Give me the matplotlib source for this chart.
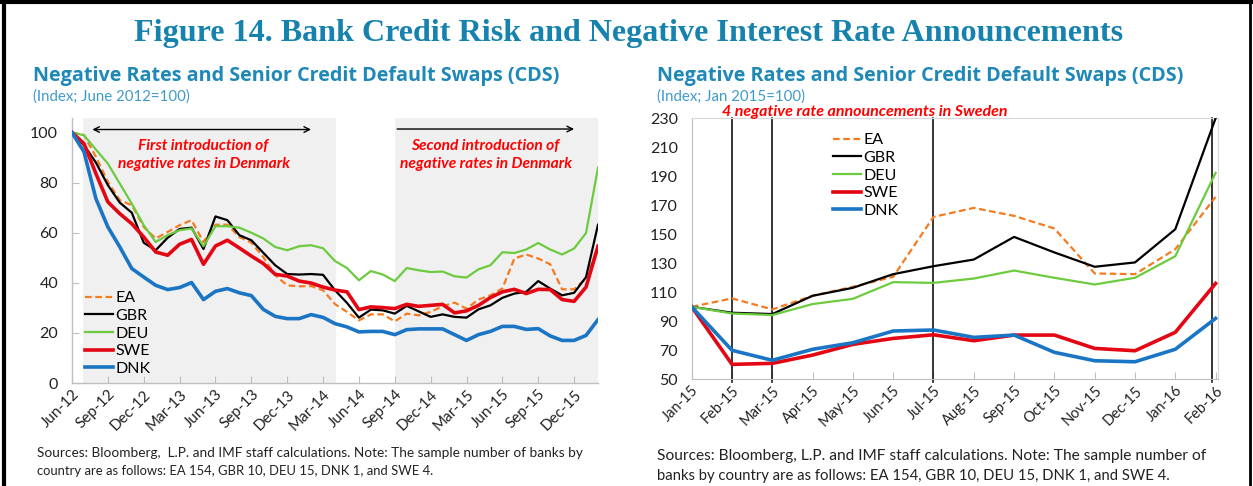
import matplotlib
matplotlib.use("Agg")
import matplotlib.pyplot as plt
from matplotlib.lines import Line2D

W, H = 1253, 486

# ---------------- data ----------------
left_ticklabels = ["Jun-12", "Sep-12", "Dec-12", "Mar-13", "Jun-13", "Sep-13", "Dec-13",
                   "Mar-14", "Jun-14", "Sep-14", "Dec-14", "Mar-15", "Jun-15", "Sep-15", "Dec-15"]

ea_left = [100, 99, 90.3, 80.3, 73, 71, 62.3, 57.7, 60.3, 63, 65, 56.3, 63.2, 63.2, 58.3, 56,
           50.3, 43, 39, 38.6, 38.7, 37, 31.5, 28.4, 25, 27.4, 27.4, 24.6, 27.7, 27, 28.4,
           30.6, 32.1, 29.7, 33.3, 35, 37.7, 49.7, 51.3, 49.7, 47.4, 37.4, 37.4, 41.7, 54.3]
gbr_left = [100, 95, 88, 79, 72, 68, 56, 53, 58, 61.5, 62, 53.5, 66.5, 65, 59, 57,
            52, 47, 43.5, 43.3, 43.5, 43.2, 37, 32, 26.1, 29.3, 29, 27.7, 30.8, 28.6, 26.4,
            27.4, 26.4, 26.1, 29.4, 31, 34, 35.7, 36.4, 40.7, 37.7, 35, 36, 42.3, 63.2]
deu_left = [100, 98.9, 93.2, 87.6, 79.6, 71.6, 63, 56.3, 59, 61, 61.7, 54.6, 62.6, 62.6, 62, 60,
            57.7, 54.3, 53, 54.6, 55, 53.8, 48.7, 45.9, 41, 44.7, 43.3, 40.7, 45.9, 45, 44.3,
            44.5, 42.6, 42.1, 45.4, 47, 52.2, 51.9, 53.3, 55.9, 53.3, 51.3, 53.7, 59.9, 86]
swe_left = [100, 95.6, 83.6, 72.3, 67.6, 63.6, 58.3, 52.3, 51, 55.4, 57.3, 47.4, 54.7, 57, 53.9,
            50.7, 47.7, 43.4, 42.7, 40.7, 39.9, 38.3, 37.1, 36.4, 29.3, 30.4, 30.1, 29.7, 31.4,
            30.6, 31, 31.4, 28, 28.8, 31, 34.1, 36.4, 37.4, 35.7, 37.4, 37.3, 33.3, 32.6, 38.3, 54.6]
dnk_left = [100, 92.3, 73.6, 62.3, 54.3, 45.7, 42.3, 39, 37.3, 38.1, 40.1, 33.3, 36.6, 37.7, 36,
            34.9, 29.4, 26.6, 25.7, 25.7, 27.3, 26.2, 23.7, 22.4, 20.4, 20.6, 20.6, 19.3, 21.3,
            21.6, 21.6, 21.6, 19.3, 17, 19.3, 20.6, 22.6, 22.6, 21.4, 21.7, 18.8, 17, 17, 19, 25.3]

right_ticklabels = ["Jan-15", "Feb-15", "Mar-15", "Apr-15", "May-15", "Jun-15", "Jul-15",
                    "Aug-15", "Sep-15", "Oct-15", "Nov-15", "Dec-15", "Jan-16", "Feb-16"]
ea_right = [100, 105.8, 98.2, 107.6, 113.8, 120.7, 162, 168.2, 162.7, 154, 123, 122.5, 139.7, 175.8]
gbr_right = [100, 95.9, 95, 107.6, 113.1, 122.5, 128, 132.6, 148.2, 137.5, 127.6, 130.6, 153.5, 230]
deu_right = [100, 95.4, 94.3, 101.9, 105.5, 117, 116.5, 119.5, 125, 120, 115.4, 120, 134.9, 192.3]
swe_right = [100, 60.3, 61, 66.7, 74.1, 78.2, 80.7, 76.6, 80.5, 80.5, 71.3, 69.7, 82.4, 116.1]
dnk_right = [100, 70, 63.1, 70.7, 75.2, 83.3, 84, 78.9, 80.5, 68.6, 62.8, 62.1, 70.7, 92]

series_names = ["EA", "GBR", "DEU", "SWE", "DNK"]
# Denmark negative-rate periods (month index from Jun-12) and Sweden announcement months (from Jan-15)
dk_periods = [(0.9, 22.1), (27.0, 44.0)]
se_announcements = [1, 2, 6, 13]

# ---------------- style ----------------
colors = {"EA": "#F47B20", "GBR": "#000000", "DEU": "#6CCB3F", "SWE": "#E30613", "DNK": "#1A75C4"}
lws = {"EA": 1.6, "GBR": 1.6, "DEU": 1.6, "SWE": 2.6, "DNK": 2.6}
styles = {"EA": (0, (3, 1.6)), "GBR": "-", "DEU": "-", "SWE": "-", "DNK": "-"}

TITLE_C = "#1682AE"
SUB_C = "#1E88B8"
SUB2_C = "#3F9ACB"
AXIS_C = "#BFBFBF"
TEXT_F = "Lato"

fig = plt.figure(figsize=(W / 100, H / 100), dpi=100)
fig.patch.set_facecolor("white")


def rect(x0, y0, x1, y1):
    return [x0 / W, 1 - y1 / H, (x1 - x0) / W, (y1 - y0) / H]


def fx(x):
    return x / W


def fy(y):
    return 1 - y / H


renderer = fig.canvas.get_renderer()


def fit_text(s, x0, x1, y, size0=10, **kw):
    t = fig.text(fx(x0), fy(y), s, fontsize=size0, ha="left", va="baseline", **kw)
    bb = t.get_window_extent(renderer=renderer)
    target = x1 - x0
    t.set_fontsize(size0 * target / bb.width)
    return t


# outer frame
fig.add_artist(Line2D([fx(4), fx(4)], [fy(0), fy(486)], color="black", lw=3))
fig.add_artist(Line2D([fx(0), fx(1253)], [fy(2), fy(2)], color="black", lw=3))
fig.add_artist(Line2D([fx(1250), fx(1250)], [fy(0), fy(486)], color="black", lw=2))

# titles
fit_text("Figure 14. Bank Credit Risk and Negative Interest Rate Announcements", 134, 1122, 41,
         size0=20, family="Liberation Serif", weight="bold", color=TITLE_C)
fit_text("Negative Rates and Senior Credit Default Swaps (CDS)", 33, 557, 81, size0=13,
         family="Open Sans", weight="bold", color=SUB_C)
fit_text("Negative Rates and Senior Credit Default Swaps (CDS)", 657, 1180, 81, size0=13,
         family="Open Sans", weight="bold", color=SUB_C)
fit_text("(Index; June 2012=100)", 33, 190, 101, size0=10, family=TEXT_F, color=SUB2_C)
fit_text("(Index; Jan 2015=100)", 657, 805, 101, size0=10, family=TEXT_F, color=SUB2_C)

fit_text("Sources: Bloomberg,  L.P. and IMF staff calculations. Note: The sample number of banks by",
         37, 580, 457, size0=10, family=TEXT_F, color="#222222")
fit_text("country are as follows: EA 154, GBR 10, DEU 15, DNK 1, and SWE 4.",
         37, 432, 475, size0=10, family=TEXT_F, color="#222222")
fit_text("Sources: Bloomberg, L.P. and IMF staff calculations. Note: The sample number of",
         657, 1207, 460, size0=10, family=TEXT_F, color="#222222")
fit_text("banks by country are as follows: EA 154, GBR 10, DEU 15, DNK 1, and SWE 4.",
         657, 1170, 480, size0=10, family=TEXT_F, color="#222222")

# ---------------- left chart ----------------
axL = fig.add_axes(rect(72, 118, 598, 383))
n_left = len(ea_left)
xs_left = list(range(n_left))
for a, b in dk_periods:
    axL.axvspan(a, b, color="#F0F0F0", lw=0, zorder=0)
left_data = {"EA": ea_left, "GBR": gbr_left, "DEU": deu_left, "SWE": swe_left, "DNK": dnk_left}
for name in series_names:
    axL.plot(xs_left, left_data[name], color=colors[name], lw=lws[name], ls=styles[name],
             label=name, solid_joinstyle="round", zorder=3)
axL.set_xlim(0, n_left - 1)
axL.set_ylim(0, 105.8)
axL.set_yticks([0, 20, 40, 60, 80, 100])
axL.set_xticks(range(0, n_left - 1, 3))
axL.set_xticklabels(left_ticklabels)
for s in ["top", "right"]:
    axL.spines[s].set_visible(False)
for s in ["left", "bottom"]:
    axL.spines[s].set_color(AXIS_C)
    axL.spines[s].set_linewidth(1.0)
axL.tick_params(axis="both", direction="in", length=5, color=AXIS_C, labelsize=11,
                labelcolor="#222222")
axL.tick_params(axis="y", pad=10)
axL.tick_params(axis="x", pad=3)
for lab in axL.get_xticklabels():
    lab.set_rotation(45)
    lab.set_ha("right")
    lab.set_rotation_mode("anchor")
    lab.set_family(TEXT_F)
for lab in axL.get_yticklabels():
    lab.set_family(TEXT_F)
    lab.set_fontsize(11.5)

axL.annotate("", xy=(1.7, 101.2), xytext=(20.0, 101.2),
             arrowprops=dict(arrowstyle="<->", color="black", lw=1.0, shrinkA=0, shrinkB=0))
axL.annotate("", xy=(42.0, 101.4), xytext=(27.2, 101.4),
             arrowprops=dict(arrowstyle="->", color="black", lw=1.0, shrinkA=0, shrinkB=0))
for xc, line1 in [(11.0, "First introduction of"), (34.6, "Second introduction of")]:
    axL.text(xc, 94.6, line1, color="#FF0000", fontsize=11.2, family=TEXT_F,
             weight="bold", style="italic", ha="center", va="center")
    axL.text(xc, 87.4, "negative rates in Denmark", color="#FF0000", fontsize=11.2,
             family=TEXT_F, weight="bold", style="italic", ha="center", va="center")

legL = axL.legend(loc="upper left", bbox_to_anchor=(fx(85), fy(291)),
                  bbox_transform=fig.transFigure, frameon=False,
                  handlelength=1.75, handletextpad=0.15, labelspacing=0.22,
                  borderpad=0, borderaxespad=0, prop={"family": TEXT_F, "size": 11.5})

# ---------------- right chart ----------------
axR = fig.add_axes(rect(691.7, 118.3, 1218, 379.3))
n_right = len(ea_right)
xs_right = list(range(n_right))
right_data = {"EA": ea_right, "GBR": gbr_right, "DEU": deu_right, "SWE": swe_right, "DNK": dnk_right}
for xv in se_announcements:
    axR.axvline(xv - (0.08 if xv == n_right - 1 else 0), ymin=-0.012, ymax=1.0, color="black",
                lw=1.1, clip_on=False, zorder=2)
for name in series_names:
    axR.plot(xs_right, right_data[name], color=colors[name], lw=lws[name], ls=styles[name],
             label=name, solid_joinstyle="round", zorder=3)
axR.set_xlim(0, n_right - 1 + 0.06)
axR.set_ylim(50, 230)
axR.set_yticks(range(50, 231, 20))
axR.set_xticks(xs_right)
axR.set_xticklabels(right_ticklabels)
for s in ["left", "bottom"]:
    axR.spines[s].set_color(AXIS_C)
for s in ["top", "right"]:
    axR.spines[s].set_color("#D9D9D9")
axR.tick_params(axis="x", direction="in", length=5, color=AXIS_C, labelsize=10.5,
                labelcolor="#222222", pad=3)
axR.tick_params(axis="y", length=0, labelsize=11.5, labelcolor="#222222", pad=10)
for lab in axR.get_xticklabels():
    lab.set_rotation(45)
    lab.set_ha("right")
    lab.set_rotation_mode("anchor")
    lab.set_family(TEXT_F)
for lab in axR.get_yticklabels():
    lab.set_family(TEXT_F)

fig.text(fx(722), fy(116), "4 negative rate announcements in Sweden", color="#FF0000",
         fontsize=11.5, family=TEXT_F, weight="bold", style="italic", ha="left", va="baseline")

legR = axR.legend(loc="upper left", bbox_to_anchor=(fx(833), fy(133)),
                  bbox_transform=fig.transFigure, frameon=False,
                  handlelength=1.75, handletextpad=0.15, labelspacing=0.22,
                  borderpad=0, borderaxespad=0, prop={"family": TEXT_F, "size": 11.5})

fig.savefig("out.png", dpi=100, facecolor="white")
